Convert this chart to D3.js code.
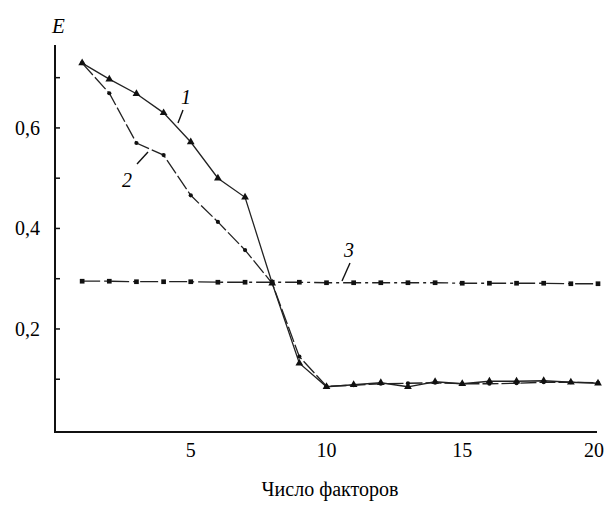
<!DOCTYPE html>
<html>
<head>
<meta charset="utf-8">
<script src="https://cdn.jsdelivr.net/npm/d3@7"></script>
<style>
  body { margin: 0; background: #fff; }
  svg text { font-family: "Times New Roman", Times, "Liberation Serif", "DejaVu Serif", serif; }
</style>
</head>
<body>
<div id="chart"></div>
<script>
const width = 605, height = 505;
const margin = {top: 45, right: 7, bottom: 73, left: 55};

// число факторов
const factors = d3.range(1, 21);
// кривая 1 (треугольники)
const curve1 = [0.729, 0.697, 0.668, 0.630, 0.572, 0.500, 0.462, 0.291, 0.132, 0.085,
    0.089, 0.093, 0.085, 0.095, 0.091, 0.096, 0.096, 0.097, 0.094, 0.092];
// кривая 2 (точки)
const curve2 = [0.729, 0.669, 0.570, 0.546, 0.466, 0.413, 0.357, 0.291, 0.145, 0.086,
    0.088, 0.091, 0.092, 0.093, 0.091, 0.091, 0.092, 0.094, 0.094, 0.093];
// кривая 3 (квадраты)
const curve3 = [0.295, 0.295, 0.294, 0.294, 0.294, 0.293, 0.293, 0.293, 0.293, 0.292,
    0.292, 0.292, 0.292, 0.292, 0.291, 0.291, 0.291, 0.291, 0.290, 0.290];

const xTicks = [5, 10, 15, 20];
const yMajor = [0.2, 0.4, 0.6];
const yMinor = [0.1, 0.3, 0.5, 0.7];

const x = d3.scaleLinear().domain([0, 20]).range([margin.left, width - margin.right]);
const y = d3.scaleLinear().domain([-0.005, 0.765]).range([height - margin.bottom, margin.top]);

const svg = d3.select("#chart").append("svg")
    .attr("width", width)
    .attr("height", height);

// axes
svg.append("line")
    .attr("x1", x(0)).attr("x2", x(0))
    .attr("y1", y.range()[0]).attr("y2", y.range()[1])
    .attr("stroke", "#111").attr("stroke-width", 2);
svg.append("line")
    .attr("x1", x(0) - 1).attr("x2", x(20) - 1)
    .attr("y1", y.range()[0]).attr("y2", y.range()[0])
    .attr("stroke", "#111").attr("stroke-width", 2);

svg.selectAll(".ytick")
    .data(yMajor.concat(yMinor))
    .enter()
    .append("line")
    .attr("class", "ytick")
    .attr("x1", x(0)).attr("x2", x(0) + 5)
    .attr("y1", d => y(d)).attr("y2", d => y(d))
    .attr("stroke", "#111").attr("stroke-width", 1.5);

svg.selectAll(".ylab")
    .data(yMajor)
    .enter()
    .append("text")
    .attr("class", "ylab")
    .attr("x", x(0) - 15)
    .attr("y", d => y(d))
    .attr("dy", "0.35em")
    .attr("text-anchor", "end")
    .attr("font-size", 20)
    .text(d => d3.format(".1f")(d).replace(".", ","));

svg.selectAll(".xlab")
    .data(xTicks)
    .enter()
    .append("text")
    .attr("class", "xlab")
    .attr("x", d => x(d))
    .attr("y", y.range()[0] + 25)
    .attr("text-anchor", d => d === 20 ? "end" : "middle")
    .attr("dx", d => d === 20 ? 6 : 0)
    .attr("font-size", 20)
    .text(d => d);

svg.append("text")
    .attr("x", 330).attr("y", 496)
    .attr("text-anchor", "middle")
    .attr("font-size", 20)
    .text("Число факторов");

svg.append("text")
    .attr("x", 52).attr("y", 33)
    .attr("font-style", "italic")
    .attr("font-size", 21)
    .text("E");

// curves
const series = [
    {name: "1", values: curve1, dash: null, marker: "triangle"},
    {name: "2", values: curve2, dash: "16,3", marker: "circle"},
    {name: "3", values: curve3, dash: "18,4,3,4", marker: "square"}
];

const line = d3.line()
    .x(d => x(d[0]))
    .y(d => y(d[1]));

series.forEach(s => {
    const pts = factors.map((f, i) => [f, s.values[i]]);
    svg.append("path")
        .datum(pts)
        .attr("fill", "none")
        .attr("stroke", "#222")
        .attr("stroke-width", 1.3)
        .attr("stroke-dasharray", s.dash)
        .attr("d", line);

    const sym = s.marker === "triangle" ? d3.symbolTriangle
        : s.marker === "square" ? d3.symbolSquare : d3.symbolCircle;
    const size = s.marker === "circle" ? 14 : s.marker === "square" ? 22 : 26;
    svg.selectAll(".m" + s.name)
        .data(pts)
        .enter()
        .append("path")
        .attr("class", "m" + s.name)
        .attr("transform", d => `translate(${x(d[0])},${y(d[1])})`)
        .attr("d", d3.symbol().type(sym).size(size))
        .attr("fill", "#111");
});

// curve labels with leader lines
const labels = [
    {text: "1", lx: 181, ly: 104, x1: 178, y1: 123, x2: 183, y2: 110},
    {text: "2", lx: 122, ly: 187, x1: 137, y1: 164, x2: 148, y2: 152},
    {text: "3", lx: 344, ly: 257, x1: 342, y1: 281, x2: 350, y2: 263}
];

svg.selectAll(".clab")
    .data(labels)
    .enter()
    .append("text")
    .attr("class", "clab")
    .attr("x", d => d.lx).attr("y", d => d.ly)
    .attr("font-style", "italic")
    .attr("font-size", 20)
    .text(d => d.text);

svg.selectAll(".lead")
    .data(labels)
    .enter()
    .append("line")
    .attr("class", "lead")
    .attr("x1", d => d.x1).attr("y1", d => d.y1)
    .attr("x2", d => d.x2).attr("y2", d => d.y2)
    .attr("stroke", "#111").attr("stroke-width", 1.4);
</script>
</body>
</html>
